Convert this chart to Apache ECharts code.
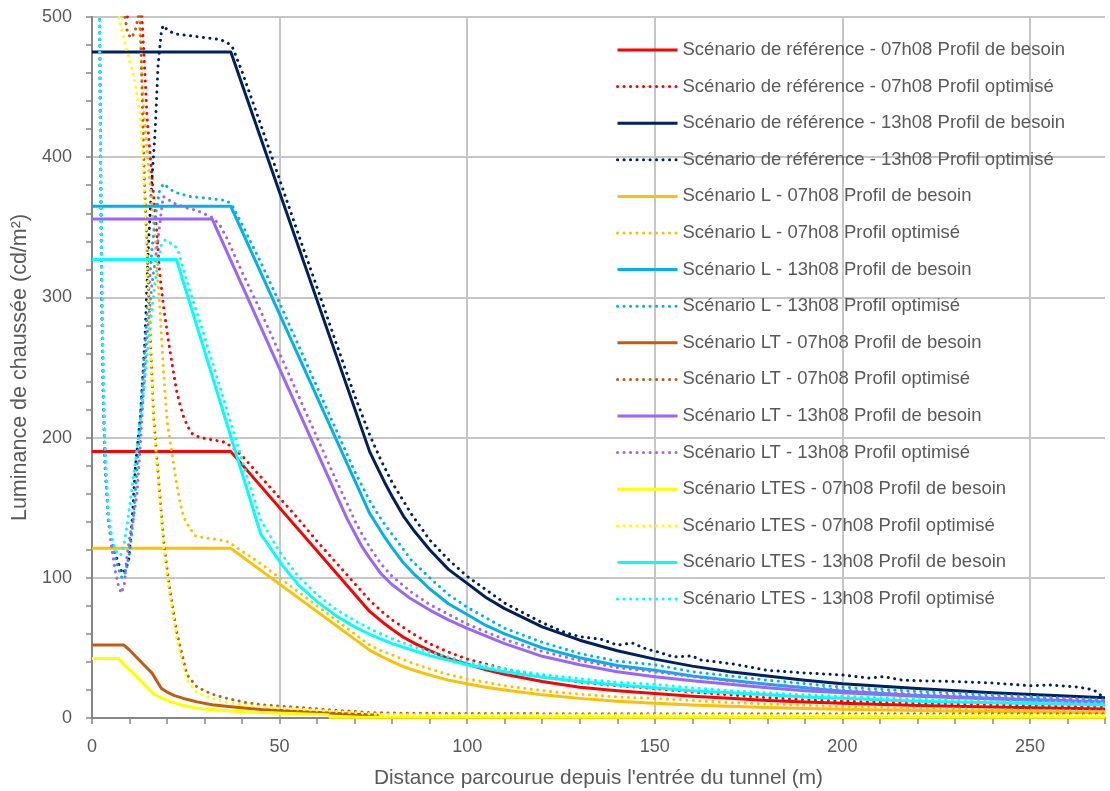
<!DOCTYPE html>
<html>
<head>
<meta charset="utf-8">
<script src="https://cdn.jsdelivr.net/npm/echarts@6/dist/echarts.min.js"></script>
<style>
html,body{margin:0;padding:0;background:#fff;}
#chart{width:1110px;height:791px;}
</style>
</head>
<body>
<div id="chart"></div>
<script>
// ---- Data (distance m, luminance cd/m²) ----
const xTicks = [0, 50, 100, 150, 200, 250];
const yTicks = [0, 100, 200, 300, 400, 500];

const seriesNames = [
  "Scénario de référence - 07h08 Profil de besoin",
  "Scénario de référence - 07h08 Profil optimisé",
  "Scénario de référence - 13h08 Profil de besoin",
  "Scénario de référence - 13h08 Profil optimisé",
  "Scénario L - 07h08 Profil de besoin",
  "Scénario L - 07h08 Profil optimisé",
  "Scénario L - 13h08 Profil de besoin",
  "Scénario L - 13h08 Profil optimisé",
  "Scénario LT - 07h08 Profil de besoin",
  "Scénario LT - 07h08 Profil optimisé",
  "Scénario LT - 13h08 Profil de besoin",
  "Scénario LT - 13h08 Profil optimisé",
  "Scénario LTES - 07h08 Profil de besoin",
  "Scénario LTES - 07h08 Profil optimisé",
  "Scénario LTES - 13h08 Profil de besoin",
  "Scénario LTES - 13h08 Profil optimisé"
];

// Référence 07h08
const refB07_x = [0, 37, 74, 76, 78, 80, 83, 86, 90, 95, 100, 105, 110, 120, 130, 140, 150, 160, 170, 180, 190, 200, 220, 240, 270];
const refB07_y = [190, 190, 76, 71.6, 67.2, 63.2, 57.6, 53.2, 48, 42.4, 38.4, 34.4, 31.2, 26, 22, 19.5, 17.5, 15.5, 14, 12.5, 11.5, 10.5, 9, 7.8, 6.5];
const refO07_x = [0, 3, 6, 8, 9.3, 10.5, 12, 13.3, 14, 14.7, 16, 17.3, 18, 19, 20.3, 21.5, 22.5, 23.5, 24.4, 25.5, 26.6, 28.8, 32, 35, 37, 40, 45, 50, 55, 60, 65, 70, 74, 77, 80, 85, 90, 95, 100, 110, 120, 130, 140, 150, 160, 170, 180, 190, 200, 220, 240, 270];
const refO07_y = [1100, 850, 640, 540, 499, 510, 530, 500, 465, 427, 385, 345, 318, 295, 270, 250, 234, 223, 215, 208, 203, 200, 198.5, 197, 194, 187, 172, 157, 142, 126, 111, 96, 84, 76.5, 70, 61, 53, 47, 42, 35, 29.5, 25.5, 23, 21, 18.5, 16.5, 14.5, 13, 12, 10.5, 9.5, 8];

// Référence 13h08
const refB13_x = [0, 37, 74, 76, 78, 80, 83, 86, 90, 95, 100, 105, 110, 120, 130, 140, 150, 160, 170, 180, 190, 200, 220, 240, 270];
const refB13_y = [475, 475, 190, 179, 168, 158, 144, 133, 120, 106, 96, 86, 78, 65, 55.5, 48, 42, 37, 33, 30, 27, 24.5, 21, 18, 14.5];
const refO13_x = [0, 1, 2, 2.3, 2.6, 3, 3.5, 4.4, 5.3, 6.2, 7.1, 8, 9, 9.8, 10.7, 11.6, 12.9, 14.1, 15, 16, 16.8, 17.6, 18.5, 19, 20, 22, 25, 28, 31, 34, 36, 37.5, 40, 45, 50, 55, 60, 65, 70, 74, 77, 80, 85, 90, 95, 100, 110, 120, 126, 130, 136, 140, 144, 148, 151, 155, 160, 162, 171, 180, 189, 200, 207, 211, 216, 220, 230, 240, 250, 256, 263, 267, 270];
const refO13_y = [1300, 900, 510, 400, 300, 230, 180, 141, 127, 117, 110, 103, 106, 113, 141, 180, 215, 269, 335, 385, 417, 465, 490, 494, 491, 488, 487, 486, 485, 484, 482, 478, 461, 423, 384, 345, 307, 268, 230, 202, 184, 168, 146, 127, 113, 101, 82, 68, 61, 58, 56, 52, 53.5, 49, 47, 43.5, 44.3, 41.5, 38.5, 34, 32.3, 30.7, 28.5, 29.5, 27, 26.6, 26, 25, 23, 23.5, 22, 20, 14];

// L 07h08
const lB07_x = [0, 37, 74, 76, 78, 80, 83, 86, 90, 95, 100, 105, 110, 120, 130, 140, 150, 160, 170, 180, 190, 200, 220, 240, 270];
const lB07_y = [121, 121, 48.4, 45.6, 42.8, 40.2, 36.7, 33.9, 30.6, 27, 24.5, 21.9, 19.9, 16.5, 14, 12, 10.5, 9.3, 8.3, 7.5, 6.8, 6.2, 5.3, 4.6, 3.8];
const lO07_x = [0, 3, 6, 9, 11, 12.5, 13, 13.4, 14, 15, 16, 16.8, 18, 19, 20, 21.3, 22.5, 23.5, 24.5, 25.9, 27.5, 30, 33, 36, 37.5, 40, 45, 50, 55, 60, 65, 70, 74, 77, 80, 85, 90, 95, 100, 110, 120, 130, 140, 150, 160, 170, 180, 190, 200, 220, 240, 270];
const lO07_y = [1000, 800, 650, 540, 515, 505, 475, 450, 425, 395, 365, 341, 295, 250, 212, 189, 168, 153, 143, 136, 130, 128.5, 127.5, 126, 123.5, 119, 110, 100, 90, 80, 70, 60, 52, 48, 45, 39.5, 35, 31, 28, 23, 19.5, 17, 15, 14, 12.5, 11, 10, 9, 8, 7, 6, 5];

// L 13h08
const lB13_x = [0, 37, 74, 76, 78, 80, 83, 86, 90, 95, 100, 105, 110, 120, 130, 140, 150, 160, 170, 180, 190, 200, 220, 240, 270];
const lB13_y = [365, 365, 146, 137.5, 129, 121.4, 110.7, 102.2, 92.2, 81.5, 73.8, 66, 60, 50, 43, 37.5, 34, 30, 27, 24, 21.5, 19, 16, 14, 11.5];
const lO13_x = [0, 1, 2, 2.3, 2.6, 3, 3.5, 4.4, 5.3, 6.2, 7.1, 8, 9, 10, 11, 12, 13, 14, 15, 16, 17, 18, 19, 22, 26, 30, 36, 37.5, 40, 45, 50, 55, 60, 65, 70, 74, 77, 80, 85, 90, 95, 100, 110, 120, 130, 140, 150, 160, 170, 180, 190, 200, 220, 240, 270];
const lO13_y = [1300, 900, 505, 395, 295, 228, 178, 140, 125, 114, 106, 100, 104, 118, 142, 178, 220, 262, 300, 335, 360, 376, 381, 375, 372, 371, 369, 365, 352, 325, 296, 266, 236, 206, 176, 155, 142, 131, 113, 100, 88, 79, 64, 54, 46, 40.5, 38, 33, 30, 27, 24.5, 22, 19, 16.5, 13];

// LT 07h08
const ltB07_x = [0, 8.5, 10, 12, 14, 16, 18.5, 20, 22, 25, 28, 32, 37, 45, 50, 63, 76, 76.5, 270];
const ltB07_y = [52, 52, 48.5, 43, 37.5, 32, 21, 18.5, 16, 13.5, 11.5, 9.5, 8, 6, 5.3, 3.5, 2, 0.4, 0.3];
const ltO07_x = [0, 4, 7, 8.5, 9.5, 10.5, 11.5, 12.3, 12.8, 13.4, 14, 14.6, 15.5, 16.4, 17.8, 19.1, 20.4, 21.8, 22.6, 25.3, 28, 32, 36, 41, 45, 50, 63, 73, 80, 100, 150, 200, 270];
const ltO07_y = [1000, 750, 560, 505, 488, 485, 490, 500, 505, 440, 380, 341, 275, 216, 168, 126, 98, 74, 61, 31, 22, 17, 14, 11, 9.5, 8.5, 6, 4, 3.5, 3.2, 3, 3, 3];

// LT 13h08
const ltB13_x = [0, 32, 68, 70, 72, 74, 77, 80, 85, 90, 95, 100, 110, 120, 130, 140, 150, 160, 170, 180, 190, 200, 220, 240, 270];
const ltB13_y = [356, 356, 142, 132, 122, 114, 103, 95, 85, 77, 70, 64, 53, 44, 38, 33, 29.5, 26.5, 24, 21.5, 19.5, 18, 15.5, 13.5, 11];
const ltO13_x = [0, 1, 2, 2.5, 3, 3.5, 4.4, 5.3, 6.2, 7, 7.8, 8.6, 9.3, 10, 11, 12, 13, 14, 14.6, 16, 17.6, 18.5, 19, 22, 25, 28, 32, 34, 36, 40, 45, 50, 55, 60, 65, 68, 70, 72, 74, 77, 80, 85, 90, 95, 100, 110, 120, 130, 140, 150, 160, 170, 180, 190, 200, 220, 240, 270];
const ltO13_y = [1300, 850, 480, 330, 240, 185, 140, 120, 105, 95, 89, 95, 115, 128, 142, 160, 200, 245, 270, 310, 341, 362, 372, 367, 364, 362, 357, 352, 342, 318, 290, 260, 230, 200, 170, 153, 141, 131, 122, 110, 101, 90, 81, 74, 67, 56, 47.5, 41, 36, 33, 29.5, 26.5, 24, 22, 20, 17, 15, 12.5];

// LTES 07h08
const ltesB07_x = [0, 7, 9, 11, 13, 15, 16.5, 18, 20, 23.5, 27, 30, 37, 45, 55, 63, 63.5, 270];
const ltesB07_y = [42.5, 42.5, 37, 32, 26.5, 21, 17, 15, 12.5, 9.5, 7.5, 6.5, 5, 4, 3, 2.3, 0.5, 0.5];
const ltesO07_x = [0, 4, 6, 7.2, 8.8, 11.2, 12.8, 13.7, 14.5, 15.5, 16.4, 17.8, 19.1, 20.4, 21.8, 22.6, 25.3, 28, 32, 36, 41, 50, 63, 77, 90, 100, 150, 200, 270];
const ltesO07_y = [1000, 700, 560, 499, 481, 457, 431, 390, 341, 270, 212, 165, 122, 94, 70, 56, 27, 18, 14, 11, 9, 7, 5, 2.5, 2.2, 2.2, 2.1, 2, 2];

// LTES 13h08
const ltesB13_x = [0, 22.5, 45, 47, 49, 51, 55, 60, 65, 70, 75, 80, 90, 100, 110, 120, 130, 140, 150, 160, 170, 180, 190, 200, 220, 240, 270];
const ltesB13_y = [327, 327, 131, 123.5, 115.5, 108, 95, 83, 73, 65, 58.5, 53, 44.5, 38, 33, 29, 26, 23.5, 21.5, 19.5, 18, 16.5, 15, 14, 12, 10.8, 9.2];
const ltesO13_x = [0, 1, 2, 2.5, 3, 3.5, 4.4, 5.3, 6.2, 7, 7.6, 8.4, 9.5, 10.7, 12.4, 14, 15.5, 17, 18.5, 19.5, 22, 23, 25, 30, 35, 40, 45, 47, 49, 51, 55, 60, 65, 70, 75, 80, 90, 100, 110, 120, 130, 140, 150, 160, 170, 180, 190, 200, 220, 240, 270];
const ltesO13_y = [1300, 850, 490, 340, 250, 190, 145, 128, 120, 117, 116, 122, 140, 165, 200, 240, 280, 315, 338, 341, 337, 333, 314, 272, 228, 184, 141, 132, 123, 115, 101, 88, 77.5, 69.5, 62.5, 56.5, 47, 40, 35, 31, 28, 25.5, 24, 21.5, 19.5, 18, 16.5, 15.5, 13.5, 12, 10.5];

const colors = ['#FF0000', '#FF0000', '#002060', '#002060', '#FFC000', '#FFC000', '#00B0F0', '#00B0F0',
                '#C55A11', '#C55A11', '#9966FF', '#9966FF', '#FFFF00', '#FFFF00', '#00FFFF', '#00FFFF'];

const seriesXY = [
  [refB07_x, refB07_y], [refO07_x, refO07_y], [refB13_x, refB13_y], [refO13_x, refO13_y],
  [lB07_x, lB07_y], [lO07_x, lO07_y], [lB13_x, lB13_y], [lO13_x, lO13_y],
  [ltB07_x, ltB07_y], [ltO07_x, ltO07_y], [ltB13_x, ltB13_y], [ltO13_x, ltO13_y],
  [ltesB07_x, ltesB07_y], [ltesO07_x, ltesO07_y], [ltesB13_x, ltesB13_y], [ltesO13_x, ltesO13_y]
];

const FONT = '"Liberation Sans", Arial, sans-serif';
const TXT = '#595959';
const AXIS = '#868686';
const GRIDC = '#C6C6C6';

const series = seriesXY.map(function (xy, i) {
  const dotted = (i % 2 === 1);
  return {
    name: seriesNames[i],
    type: 'line',
    data: xy[0].map(function (x, k) { return [x, xy[1][k]]; }),
    showSymbol: false,
    symbol: 'none',
    clip: true,
    silent: true,
    animation: false,
    color: colors[i],
    lineStyle: {
      color: colors[i],
      width: 3,
      type: dotted ? [0.1, 6.4] : 'solid',
      cap: dotted ? 'round' : 'butt',
      join: 'round'
    },
    z: 2
  };
});

const chart = echarts.init(document.getElementById('chart'), null, {renderer: 'canvas'});
chart.setOption({
  animation: false,
  backgroundColor: '#ffffff',
  textStyle: {fontFamily: FONT},
  grid: {left: 92, right: 5, top: 17, bottom: 73, containLabel: false, outerBoundsMode: 'none'},
  legend: {
    orient: 'vertical',
    left: 611,
    top: 34,
    itemWidth: 60,
    itemHeight: 1,
    itemGap: 14.6,
    selectedMode: false,
    data: seriesNames,
    lineStyle: {width: 3},
    textStyle: {color: TXT, fontSize: 18.5, fontFamily: FONT, lineHeight: 22}
  },
  xAxis: {
    type: 'value',
    min: 0, max: 270, interval: 50,
    name: "Distance parcourue depuis l'entrée du tunnel (m)",
    nameLocation: 'middle',
    nameGap: 50,
    nameTextStyle: {color: TXT, fontSize: 20.8, fontFamily: FONT},
    axisLine: {show: true, onZero: false, lineStyle: {color: AXIS, width: 2}},
    axisTick: {show: true, inside: false, length: 6, lineStyle: {color: AXIS, width: 1.5}},
    minorTick: {show: true, splitNumber: 5, length: 6, lineStyle: {color: AXIS, width: 1.5}},
    splitLine: {show: true, showMinLine: false, showMaxLine: false, lineStyle: {color: GRIDC, width: 2}},
    axisLabel: {color: TXT, fontSize: 18, margin: 20, showMaxLabel: false, fontFamily: FONT,
      formatter: function (v) { return xTicks.indexOf(v) >= 0 ? String(v) : ''; }}
  },
  yAxis: {
    type: 'value',
    min: 0, max: 500, interval: 100,
    name: 'Luminance de chaussée (cd/m²)',
    nameLocation: 'middle',
    nameGap: 50,
    nameTextStyle: {color: TXT, fontSize: 21.5, fontFamily: FONT},
    axisLine: {show: true, lineStyle: {color: AXIS, width: 2}},
    axisTick: {show: true, inside: false, length: 6, lineStyle: {color: AXIS, width: 1.5}},
    minorTick: {show: true, splitNumber: 5, length: 6, lineStyle: {color: AXIS, width: 1.5}},
    splitLine: {show: true, showMinLine: false, lineStyle: {color: GRIDC, width: 2}},
    axisLabel: {color: TXT, fontSize: 18, margin: 20, fontFamily: FONT,
      formatter: function (v) { return yTicks.indexOf(v) >= 0 ? String(v) : ''; }}
  },
  series: series
});
</script>
</body>
</html>
